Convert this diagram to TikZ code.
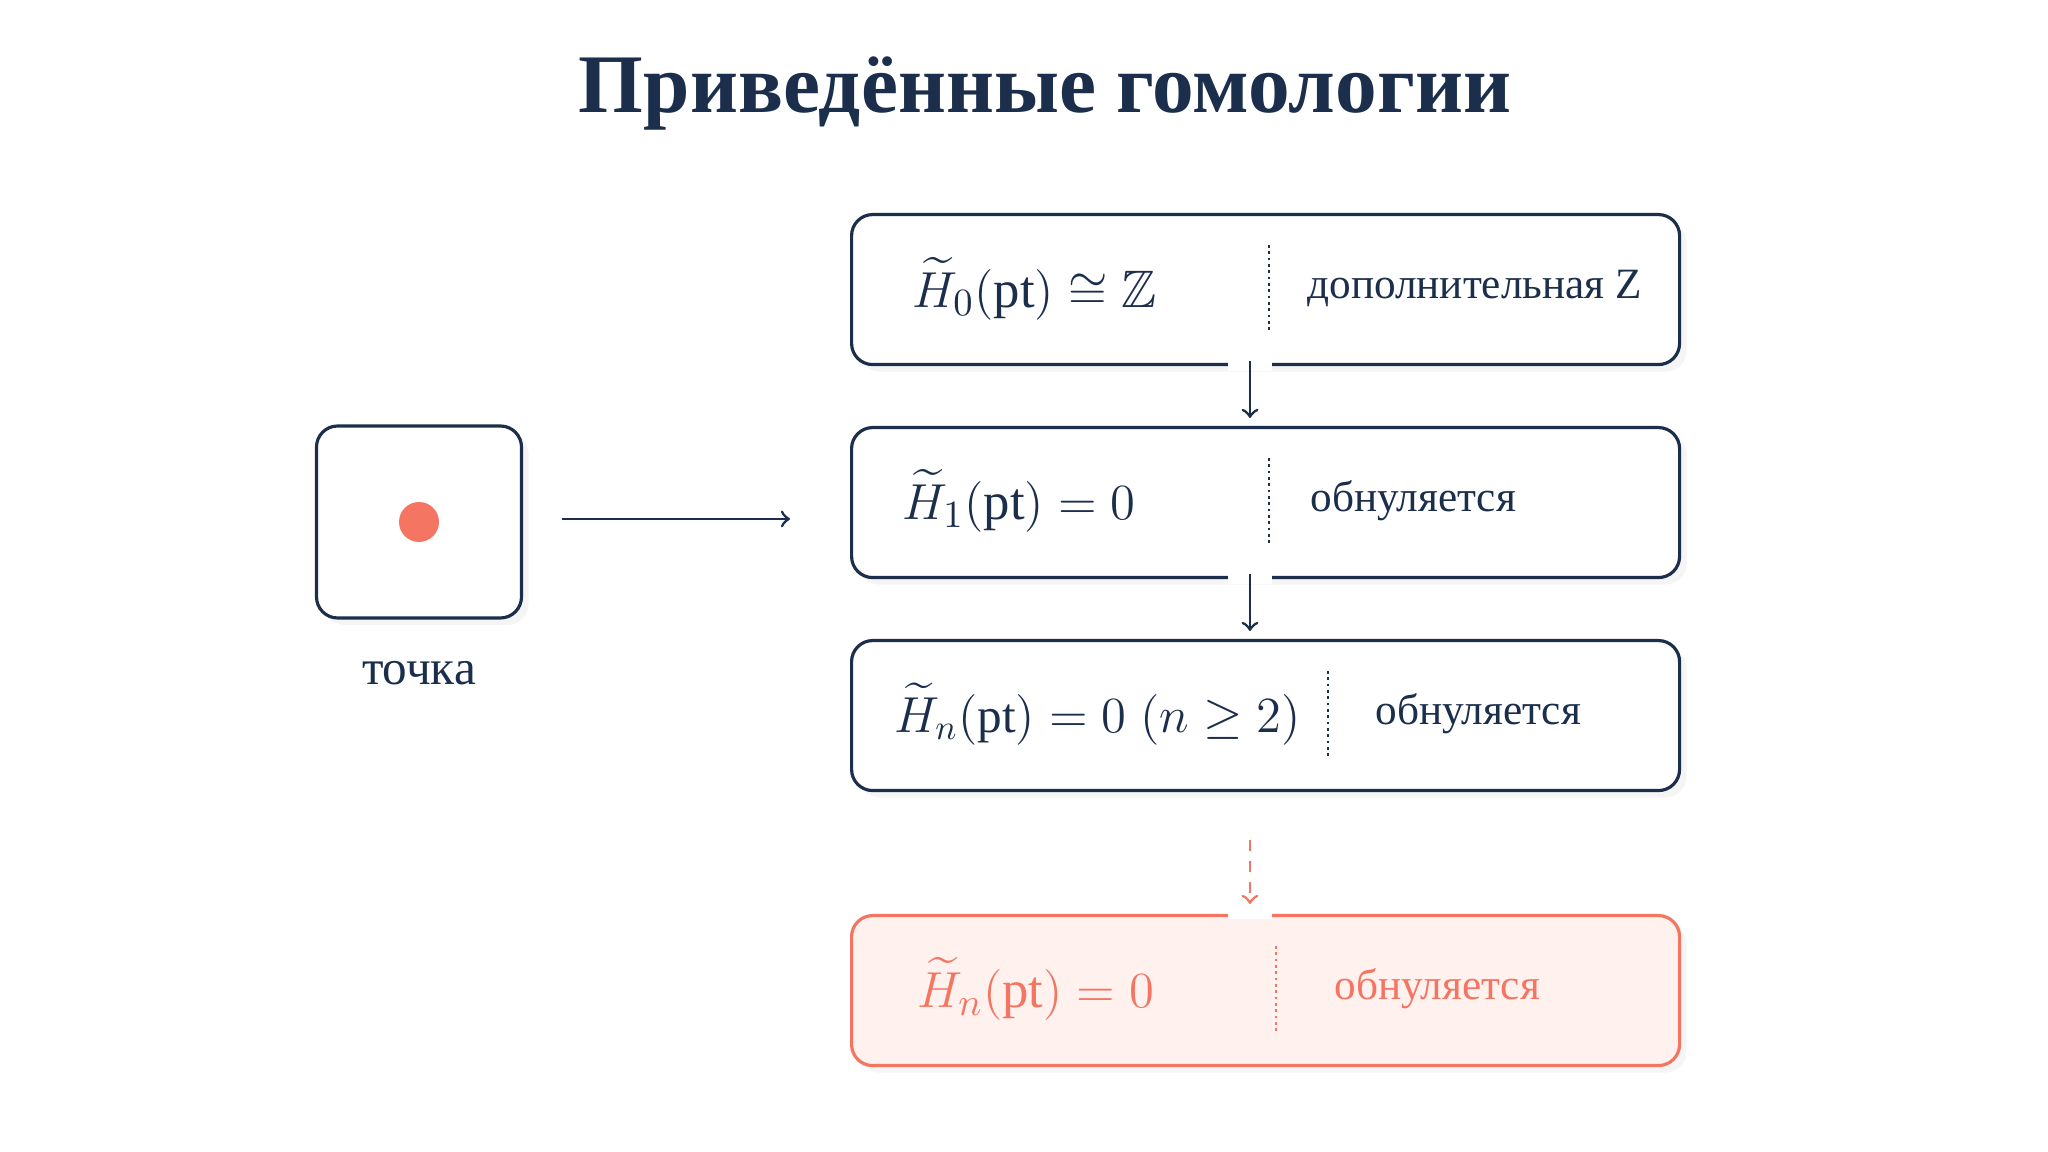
\documentclass[tikz,border=0pt]{standalone}
\usepackage{amsmath,amssymb}
\usepackage{fontspec}
\setmainfont{Liberation Serif}
\usetikzlibrary{positioning,shadows}
\definecolor{navy}{HTML}{1B2E4B}
\definecolor{coral}{HTML}{F47561}
\definecolor{coralbg}{HTML}{FFF1EE}
\begin{document}
\begin{tikzpicture}[
    rowbox/.style={rectangle, draw=navy, fill=white, line width=0.9pt, rounded corners=6pt,
                   minimum width=8.28cm, minimum height=1.5cm, anchor=north west,
                   drop shadow={shadow xshift=2pt, shadow yshift=-2pt, opacity=0.08}},
    hotbox/.style={rowbox, draw=coral, fill=coralbg},
    divider/.style={navy, densely dotted, line width=0.8pt},
    formula/.style={anchor=west, text=navy, font=\fontsize{15}{18}\selectfont},
    remark/.style={anchor=west, text=navy, font=\fontsize{12.3}{15}\selectfont},
    flow/.style={->, navy, line width=0.8pt},
  ]
  \useasboundingbox[fill=white] (0,0) rectangle (20.48,11.52);
  %Title
  \node[text=navy, font=\fontsize{23.7}{28}\selectfont\bfseries] (title) at (10.45,10.58) {Приведённые гомологии};

  %Point
  \node[rectangle, draw=navy, line width=0.9pt, rounded corners=6pt, minimum width=2.05cm, minimum height=1.92cm,
        drop shadow={shadow xshift=2pt, shadow yshift=-2pt, opacity=0.08}, fill=white] (pt) at (4.19,6.30) {};
  \fill[coral] (pt.center) circle (0.2);
  \node[text=navy, font=\fontsize{14}{17}\selectfont] (ptlabel) at (4.19,4.79) {точка};

  %Rows
  \node[rowbox] (r0) at (8.50,9.39) {};
  \node[rowbox] (r1) at (8.50,7.26) {};
  \node[rowbox] (r2) at (8.50,5.13) {};
  \node[hotbox] (r3) at (8.50,2.38) {};

  \node[formula] (f0) at (9.00,8.63) {$\widetilde{H}_0(\mathrm{pt})\cong\mathbb{Z}$};
  \node[formula] (f1) at (8.90,6.51) {$\widetilde{H}_1(\mathrm{pt})=0$};
  \node[formula, font=\fontsize{14}{17}\selectfont] (f2) at (8.82,4.38) {$\widetilde{H}_n(\mathrm{pt})=0\;(n\geq 2)$};
  \node[formula, text=coral] (f3) at (9.05,1.63) {$\widetilde{H}_n(\mathrm{pt})=0$};

  \draw[divider] (12.69,9.07) -- (12.69,8.19);
  \draw[divider] (12.69,6.94) -- (12.69,6.06);
  \draw[divider] (13.28,4.81) -- (13.28,3.93);
  \draw[divider, coral] (12.76,2.06) -- (12.76,1.18);

  \node[remark] (n0) at (12.95,8.63) {дополнительная Z};
  \node[remark] (n1) at (12.98,6.51) {обнуляется};
  \node[remark] (n2) at (13.63,4.38) {обнуляется};
  \node[remark, text=coral] (n3) at (13.22,1.63) {обнуляется};

  %Arrows
  \coordinate (col) at (12.50,0);
  \coordinate (a0) at (5.62,6.33);
  \coordinate (a1) at (7.90,6.33);
  \draw[flow] (a0) -- (a1);
  \draw[white, line width=3pt] ([xshift=-0.22cm]r0.south-|col) -- ([xshift=0.22cm]r0.south-|col);
  \draw[white, line width=3pt] ([xshift=-0.22cm]r1.south-|col) -- ([xshift=0.22cm]r1.south-|col);
  \draw[white, line width=3pt] ([xshift=-0.22cm]r3.north-|col) -- ([xshift=0.22cm]r3.north-|col);
  \draw[flow] ([yshift=0.05cm]r0.south-|col) -- ([yshift=0.08cm]r1.north-|col);
  \draw[flow] ([yshift=0.05cm]r1.south-|col) -- ([yshift=0.08cm]r2.north-|col);
  \draw[flow, coral, dashed] ([yshift=-0.48cm]r2.south-|col) -- ([yshift=0.1cm]r3.north-|col);
\end{tikzpicture}
\end{document}
